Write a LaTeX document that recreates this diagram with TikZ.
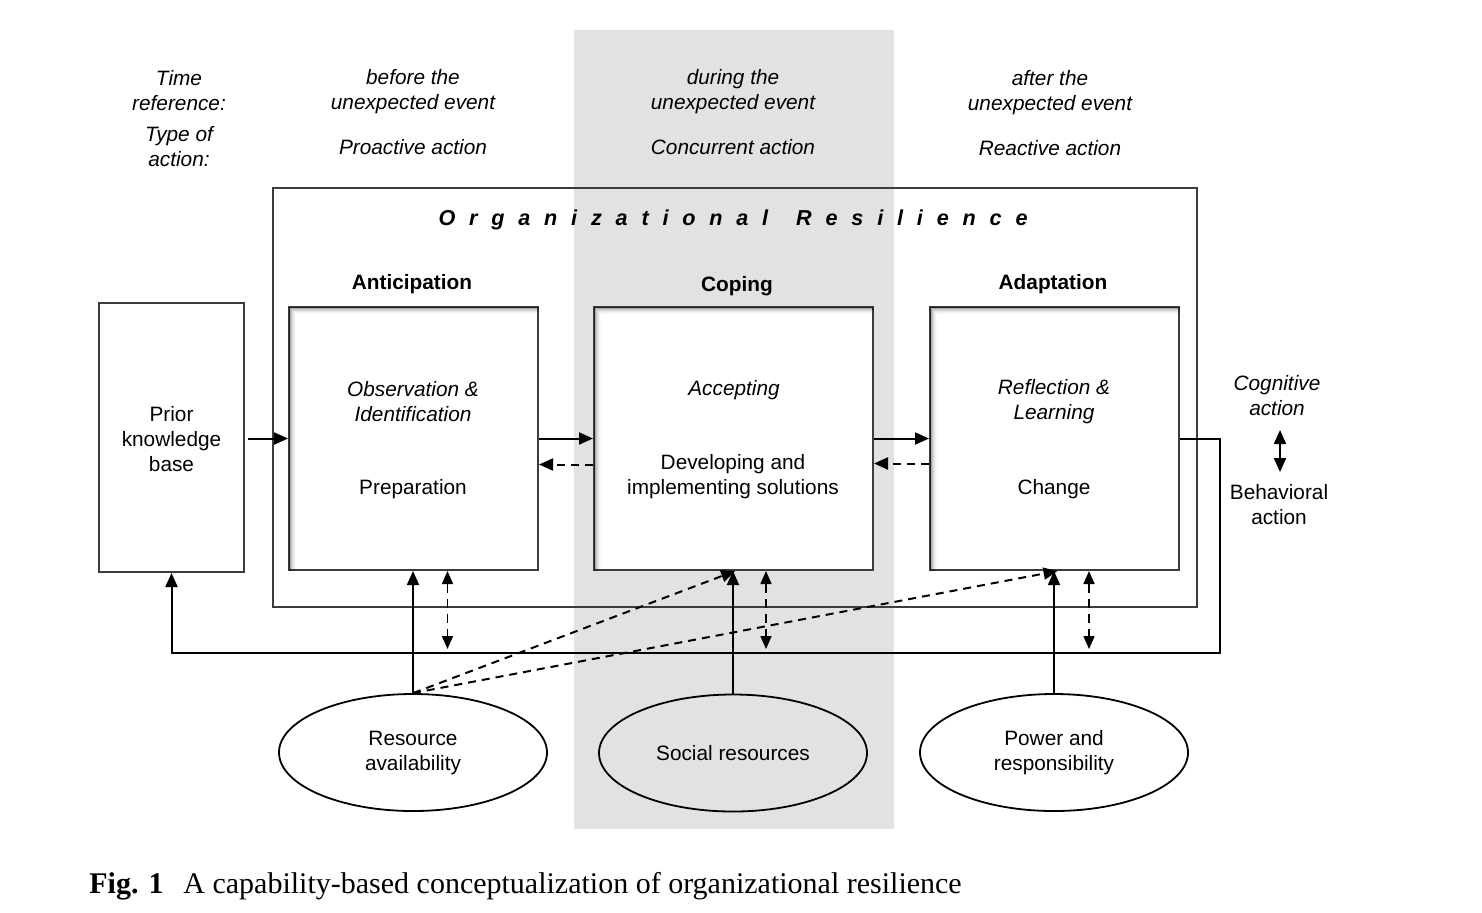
\documentclass[tikz,border=0pt]{standalone}
\usepackage{fontspec}
\setmainfont{Liberation Sans}
\newfontfamily\capfont{Liberation Serif}
\usetikzlibrary{arrows.meta,shapes.geometric,positioning,calc}
\definecolor{band}{RGB}{226,226,226}
\definecolor{edge}{RGB}{60,60,60}

\begin{document}
\begin{tikzpicture}[x=0.5pt,y=-0.5pt,
    font=\fontsize{10.4}{12.5}\selectfont,
    box/.style={draw=edge, line width=1pt, fill=white, inner sep=0pt},
    res/.style={ellipse, draw, line width=0.9pt, minimum width=134pt, minimum height=58.5pt, align=center, inner sep=0pt},
    txt/.style={align=center},
    hdr/.style={align=center, font=\fontsize{10.4}{12.5}\selectfont\itshape},
    capab/.style={font=\fontsize{10.4}{12.5}\selectfont\bfseries},
    flow/.style={-{Triangle[length=7pt,width=6pt]}, line width=1pt},
    back/.style={flow, dash pattern=on 4pt off 3pt},
    supply/.style={-{Triangle[length=7pt,width=6pt]}, line width=0.9pt},
    share/.style={{Triangle[length=6.5pt,width=5.5pt]}-{Triangle[length=6.5pt,width=5.5pt]}, line width=0.8pt, dash pattern=on 4.5pt off 3pt}]
    \useasboundingbox (0,0) rectangle (1482,912);

    % Shaded band for the time during the event
    \fill[band] (574,30) rectangle (894,829);

    % Time reference and type of action
    \node[hdr] (timeref) at (179,91) {Time\\reference:};
    \node[hdr] (acttype) at (179,147) {Type of\\action:};
    \node[hdr] (before) at (413,92) {before the\\unexpected event};
    \node[hdr] (during) at (733,92) {during the\\unexpected event};
    \node[hdr] (after) at (1050,93) {after the\\unexpected event};
    \node[hdr] (proact) at (413,147) {Proactive action};
    \node[hdr] (concur) at (733,147) {Concurrent action};
    \node[hdr] (react) at (1050,148) {Reactive action};

    % Organizational resilience frame
    \draw[edge, line width=1pt] (273,188) rectangle (1197,607);
    \node[font=\fontsize{10.8}{12.5}\selectfont\bfseries\itshape\addfontfeature{LetterSpace=64}] (orgres) at (733,220) {Organizational\hspace{14pt}Resilience};

    % Capabilities
    \node[box, minimum width=72.5pt, minimum height=134.5pt] (prior) at (171.5,437.5) {};
    \node[txt] (priortxt) at (171.5,439) {Prior\\knowledge\\base};
    \node[box, minimum width=124.5pt, minimum height=131.5pt] (antic) at (413.5,438.5) {};
    \node[box, minimum width=139.5pt, minimum height=131.5pt] (coping) at (733.5,438.5) {};
    \node[box, minimum width=124.5pt, minimum height=131.5pt] (adapt) at (1054.5,438.5) {};
    \foreach \b in {antic,coping,adapt}
      \foreach \i/\o in {1/0.45,2/0.33,3/0.23,4/0.15,5/0.09,6/0.05,7/0.02}
        \draw[black, opacity=\o, line width=0.55pt]
          ([xshift=\i*0.5pt+0.2pt]\b.south west) |- ([yshift=-\i*0.5pt-0.2pt]\b.north east);

    \node[capab] (anticlbl) at (412,284) {Anticipation};
    \node[capab] (copinglbl) at (737,286) {Coping};
    \node[capab] (adaptlbl) at (1053,284) {Adaptation};

    \node[hdr] (observe) at (413,402) {Observation \&\\Identification};
    \node[txt] (prepare) at (413,489) {Preparation};
    \node[hdr] (accept) at (734,390) {Accepting};
    \node[txt] (develop) at (733,477) {Developing and\\implementing solutions};
    \node[hdr] (reflect) at (1054,402) {Reflection \&\\Learning};
    \node[txt] (change) at (1054,489) {Change};

    % Flows between capabilities
    \draw[flow] ([xshift=1.5pt]prior.east |- antic.west) -- (antic.west);
    \draw[flow] (antic.east) -- (coping.west);
    \draw[back] ([yshift=-13pt]coping.west) -- ([yshift=-13pt]antic.east);
    \draw[flow] (coping.east) -- (adapt.west);
    \draw[back] ([yshift=-12.5pt]adapt.west) -- ([yshift=-12.5pt]coping.east);

    % Feedback to the knowledge base
    \coordinate (fbturn) at (1220,653);
    \draw[flow] (adapt.east) -| (fbturn) -| (prior.south);

    % Resources
    \node[res] (resav) at (413,752.5) {Resource\\availability};
    \node[res] (social) at (733,753) {Social resources};
    \node[res] (power) at (1054,752.5) {Power and\\responsibility};

    \draw[supply] (resav.north) -- (resav.north |- antic.south);
    \draw[supply, line width=1pt, dash pattern=on 4pt off 3pt] (resav.north) -- ([xshift=0.8pt]coping.south);
    \draw[supply, line width=1pt, dash pattern=on 4pt off 3pt] (resav.north) -- ([xshift=1.5pt]adapt.south);
    \draw[supply] (social.north) -- (social.north |- coping.south);
    \draw[supply] (power.north) -- (power.north |- adapt.south);

    \draw[share] ([xshift=17pt]antic.south) -- ([xshift=17pt,yshift=2pt]antic.south |- fbturn);
    \draw[share] ([xshift=16.25pt]coping.south) -- ([xshift=16.25pt,yshift=2pt]coping.south |- fbturn);
    \draw[share] ([xshift=17.25pt]adapt.south) -- ([xshift=17.25pt,yshift=2pt]adapt.south |- fbturn);

    % Legend
    \node[hdr] (cogn) at (1277,396) {Cognitive\\action};
    \node[txt] (behav) at (1279,505) {Behavioral\\action};
    \coordinate (legtop) at (1280,430);
    \coordinate (legbot) at (1280,472);
    \draw[{Triangle[length=7pt,width=6pt]}-{Triangle[length=7pt,width=6pt]}, line width=1pt] (legtop) -- (legbot);

    % Caption
    \node[anchor=west, inner sep=0pt, font=\capfont\fontsize{15}{18}\selectfont\bfseries] (figno) at (89,886) {Fig. 1};
    \node[anchor=west, inner sep=0pt, font=\capfont\fontsize{15}{18}\selectfont] (figcap) at (183,886) {A capability-based conceptualization of organizational resilience};
\end{tikzpicture}
\end{document}
